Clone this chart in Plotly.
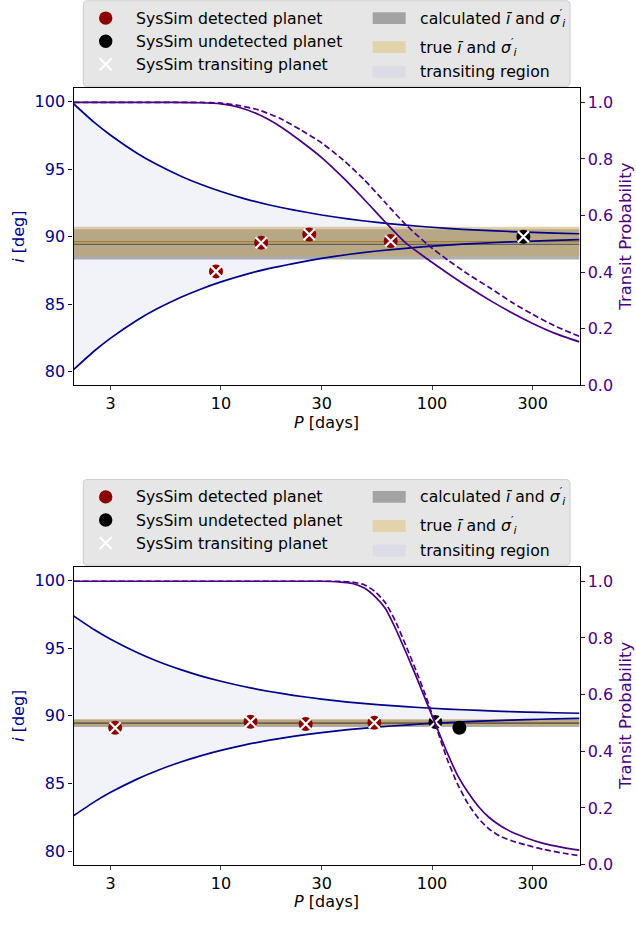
import plotly.graph_objects as go

W, H = 636, 926

# ---------------- data ----------------
P_REGION = [2, 2.5, 3, 4, 5, 6.5, 8, 10, 13, 17, 22, 30, 40, 55, 75, 100, 140, 200, 280, 380, 500]
# top panel transiting region
upper_top = [99.86, 98.49, 97.52, 96.19, 95.33, 94.47, 93.89, 93.35, 92.81, 92.35, 91.99,
             91.61, 91.32, 91.06, 90.86, 90.70, 90.55, 90.43, 90.34, 90.27, 90.22]
lower_top = [80.14, 81.51, 82.48, 83.81, 84.67, 85.53, 86.11, 86.65, 87.19, 87.65, 88.01,
             88.39, 88.68, 88.94, 89.14, 89.30, 89.45, 89.57, 89.66, 89.73, 89.78]
# bottom panel transiting region
upper_bot = [97.39, 96.38, 95.66, 94.68, 94.04, 93.40, 92.96, 92.56, 92.15, 91.80, 91.52,
             91.24, 91.02, 90.83, 90.68, 90.56, 90.45, 90.35, 90.28, 90.23, 90.19]
lower_bot = [82.61, 83.62, 84.34, 85.32, 85.96, 86.60, 87.04, 87.44, 87.85, 88.20, 88.48,
             88.76, 88.98, 89.17, 89.32, 89.44, 89.55, 89.65, 89.72, 89.77, 89.81]

# transit probability curves (right axis)
P_PROB_TOP = [2, 4, 6, 8, 10, 12, 15, 19, 24, 30, 38, 48, 60, 75, 95, 120, 150, 190, 240, 300, 380, 500]
prob_top_solid = [1.0, 1.0, 1.0, 0.999, 0.995, 0.984, 0.958, 0.916, 0.862, 0.805, 0.733, 0.655,
                  0.577, 0.503, 0.446, 0.393, 0.345, 0.298, 0.255, 0.218, 0.184, 0.153]
prob_top_dash = [1.0, 1.0, 1.0, 1.0, 0.998, 0.99, 0.974, 0.944, 0.902, 0.857, 0.796, 0.725,
                 0.646, 0.568, 0.498, 0.44, 0.39, 0.342, 0.292, 0.25, 0.21, 0.172]

P_PROB_BOT = [2, 10, 20, 30, 36, 42, 48, 54, 60, 67, 75, 84, 94, 105, 118, 132, 148, 166, 186,
              210, 240, 280, 340, 420, 500]
prob_bot_solid = [1.0, 1.0, 1.0, 1.0, 0.998, 0.992, 0.975, 0.944, 0.905, 0.835, 0.752, 0.665,
                  0.575, 0.487, 0.395, 0.316, 0.255, 0.205, 0.167, 0.138, 0.114, 0.094, 0.074,
                  0.06, 0.051]
prob_bot_dash = [1.0, 1.0, 1.0, 1.0, 1.0, 0.997, 0.987, 0.962, 0.925, 0.86, 0.775, 0.685, 0.59,
                 0.483, 0.372, 0.285, 0.215, 0.163, 0.126, 0.1, 0.083, 0.069, 0.053, 0.04, 0.031]

# mean inclination and spread: (mean, sigma)
calc_top = (89.43, 1.125)
true_top = (89.64, 1.09)
calc_bot = (89.44, 0.27)
true_bot = (89.50, 0.26)

# planets
det_P_top = [9.47, 15.5, 26.2, 63.7]
det_i_top = [87.43, 89.56, 90.17, 89.68]
und_P_top = [271]
und_i_top = [90.0]
tra_P_top = [9.47, 15.5, 26.2, 63.7, 271]
tra_i_top = [87.43, 89.56, 90.17, 89.68, 90.0]

det_P_bot = [3.15, 13.8, 25.2, 53.3]
det_i_bot = [89.12, 89.56, 89.39, 89.49]
und_P_bot = [103.8, 134.8]
und_i_bot = [89.54, 89.12]
tra_P_bot = [3.15, 13.8, 25.2, 53.3, 103.8]
tra_i_bot = [89.12, 89.56, 89.39, 89.49, 89.54]

P_RANGE = [2, 500]
x_ticks = [3, 10, 30, 100, 300]
i_ticks = [80, 85, 90, 95, 100]
prob_ticks = [0.0, 0.2, 0.4, 0.6, 0.8, 1.0]

legend_left = ["SysSim detected planet", "SysSim undetected planet", "SysSim transiting planet"]
legend_right = ["calculated <i>ī</i> and <i>σ</i><sup>′</sup><sub><i>i</i></sub>",
                "true <i>ī</i> and <i>σ</i><sup>′</sup><sub><i>i</i></sub>",
                "transiting region"]

# ---------------- styles ----------------
FONT = "DejaVu Sans"
BLUE = "#00008B"
PURPLE = "#4B0082"
DRED = "#8B0000"
REGION_FILL = "rgba(0,0,139,0.05)"
GRAY_FILL = "rgba(128,128,128,0.62)"
GRAY_LINE = "rgba(90,90,90,0.9)"
TAN_FILL = "rgba(198,164,92,0.5)"
TAN_LINE = "rgba(160,120,40,0.9)"
GRAY_SW = "#A3A3A3"
TAN_SW = "#E2D3AA"
REG_SW = "#DCDCE6"

def px(x):
    return x / W

def py(y):
    return 1 - y / H

X_DOM = [px(73.5), px(579.5)]
panels = [
    dict(xa="x", ya="y", yb="y2", dom=[py(389.3), py(89.3)], up=upper_top, lo=lower_top,
         calc=calc_top, true=true_top, det=(det_P_top, det_i_top), und=(und_P_top, und_i_top),
         tra=(tra_P_top, tra_i_top), Pp=P_PROB_TOP,
         solid=prob_top_solid, dash=prob_top_dash,
         top=89.3, bottom=389.3, leg_off=0),
    dict(xa="x2", ya="y3", yb="y4", dom=[py(874.0), py(573.3)], up=upper_bot, lo=lower_bot,
         calc=calc_bot, true=true_bot, det=(det_P_bot, det_i_bot), und=(und_P_bot, und_i_bot),
         tra=(tra_P_bot, tra_i_bot), Pp=P_PROB_BOT,
         solid=prob_bot_solid, dash=prob_bot_dash,
         top=573.3, bottom=874.0, leg_off=484),
]

fig = go.Figure()

for p in panels:
    xa, ya, yb = p["xa"], p["ya"], p["yb"]
    common = dict(xaxis=xa, yaxis=ya, showlegend=False, hoverinfo="skip")
    # transiting region fill
    fig.add_trace(go.Scatter(x=P_REGION, y=p["up"], mode="lines",
                             line=dict(width=0, shape="spline", smoothing=0.6), **common))
    fig.add_trace(go.Scatter(x=P_REGION, y=p["lo"], mode="lines", fill="tonexty",
                             fillcolor=REGION_FILL,
                             line=dict(width=0, shape="spline", smoothing=0.6), **common))
    # calculated band
    m, s = p["calc"]
    fig.add_trace(go.Scatter(x=P_RANGE, y=[m + s, m + s], mode="lines",
                             line=dict(width=0), **common))
    fig.add_trace(go.Scatter(x=P_RANGE, y=[m - s, m - s], mode="lines", fill="tonexty",
                             fillcolor=GRAY_FILL, line=dict(width=0), **common))
    # true band
    m2, s2 = p["true"]
    fig.add_trace(go.Scatter(x=P_RANGE, y=[m2 + s2, m2 + s2], mode="lines",
                             line=dict(width=0), **common))
    fig.add_trace(go.Scatter(x=P_RANGE, y=[m2 - s2, m2 - s2], mode="lines", fill="tonexty",
                             fillcolor=TAN_FILL, line=dict(width=0), **common))
    # mean lines
    fig.add_trace(go.Scatter(x=P_RANGE, y=[m2, m2], mode="lines",
                             line=dict(width=1.4, color=TAN_LINE), **common))
    fig.add_trace(go.Scatter(x=P_RANGE, y=[m, m], mode="lines",
                             line=dict(width=1.4, color=GRAY_LINE), **common))
    # region boundaries
    for arr in (p["up"], p["lo"]):
        fig.add_trace(go.Scatter(x=P_REGION, y=arr, mode="lines",
                                 line=dict(width=1.7, color=BLUE, shape="spline", smoothing=0.6),
                                 **common))
    # planets
    fig.add_trace(go.Scatter(x=p["det"][0], y=p["det"][1], mode="markers",
                             marker=dict(size=14, color=DRED, line=dict(width=0)), **common))
    fig.add_trace(go.Scatter(x=p["und"][0], y=p["und"][1], mode="markers",
                             marker=dict(size=14, color="black", line=dict(width=0)), **common))
    fig.add_trace(go.Scatter(x=p["tra"][0], y=p["tra"][1], mode="markers",
                             marker=dict(size=11, symbol="x-thin", color="white",
                                         line=dict(width=2.2, color="white")), **common))
    # transit probability
    common2 = dict(xaxis=xa, yaxis=yb, showlegend=False, hoverinfo="skip")
    fig.add_trace(go.Scatter(x=p["Pp"], y=p["dash"], mode="lines",
                             line=dict(width=1.7, color=PURPLE, dash="6px,3px",
                                       shape="spline", smoothing=0.6), **common2))
    fig.add_trace(go.Scatter(x=p["Pp"], y=p["solid"], mode="lines",
                             line=dict(width=1.7, color=PURPLE, shape="spline", smoothing=0.6),
                             **common2))

# ---------------- axes ----------------
def xaxis_cfg(anchor):
    return dict(type="log", range=[0.30103, 2.69897], domain=X_DOM, anchor=anchor,
                tickvals=x_ticks, ticktext=[str(t) for t in x_ticks],
                ticks="outside", ticklen=4, tickwidth=1, tickcolor="#444",
                tickfont=dict(size=16, color="black", family=FONT),
                showline=True, linecolor="black", linewidth=1.3, mirror=True,
                showgrid=False, zeroline=False)

def yleft_cfg(dom, anchor):
    return dict(range=[79, 101], domain=dom, anchor=anchor, tickvals=i_ticks,
                ticktext=[str(t) for t in i_ticks],
                ticks="outside", ticklen=4, tickwidth=1, tickcolor=BLUE,
                tickfont=dict(size=16, color=BLUE, family=FONT),
                showline=True, linecolor="black", linewidth=1.3, mirror=True,
                showgrid=False, zeroline=False)

def yright_cfg(over, anchor):
    return dict(range=[0, 1.05], overlaying=over, side="right", anchor=anchor,
                tickvals=prob_ticks, ticktext=["%.1f" % t for t in prob_ticks],
                ticks="outside", ticklen=4, tickwidth=1, tickcolor=PURPLE,
                tickfont=dict(size=16, color=PURPLE, family=FONT),
                showline=False, showgrid=False, zeroline=False)

fig.update_layout(
    width=W, height=H, autosize=False,
    margin=dict(l=0, r=0, t=0, b=0),
    paper_bgcolor="white", plot_bgcolor="rgba(0,0,0,0)",
    font=dict(family=FONT, size=16, color="black"),
    showlegend=False,
    xaxis=xaxis_cfg("y"),
    xaxis2=xaxis_cfg("y3"),
    yaxis=yleft_cfg(panels[0]["dom"], "x"),
    yaxis2=yright_cfg("y", "x"),
    yaxis3=yleft_cfg(panels[1]["dom"], "x2"),
    yaxis4=yright_cfg("y3", "x2"),
)

shapes = []
annotations = []

def rounded_rect(x0, y0, x1, y1, r):
    def P(x, y):
        return "%.5f,%.5f" % (px(x), py(y))
    return ("M " + P(x0 + r, y0) + " L " + P(x1 - r, y0) + " Q " + P(x1, y0) + " " + P(x1, y0 + r) +
            " L " + P(x1, y1 - r) + " Q " + P(x1, y1) + " " + P(x1 - r, y1) +
            " L " + P(x0 + r, y1) + " Q " + P(x0, y1) + " " + P(x0, y1 - r) +
            " L " + P(x0, y0 + r) + " Q " + P(x0, y0) + " " + P(x0 + r, y0) + " Z")

for p in panels:
    o = p["leg_off"]
    mid = (p["top"] + p["bottom"]) / 2
    # axis titles
    annotations.append(dict(x=px(326.5), y=py(p["bottom"] + 37.5), xref="paper", yref="paper",
                            text="<i>P</i> [days]", showarrow=False,
                            font=dict(size=16, color="black", family=FONT),
                            xanchor="center", yanchor="middle"))
    annotations.append(dict(x=px(19), y=py(mid), xref="paper", yref="paper",
                            text="<i>i</i> [deg]", showarrow=False, textangle=-90,
                            font=dict(size=16, color=BLUE, family=FONT),
                            xanchor="center", yanchor="middle"))
    annotations.append(dict(x=px(626), y=py(mid), xref="paper", yref="paper",
                            text="Transit Probability", showarrow=False, textangle=-90,
                            font=dict(size=16.5, color=PURPLE, family=FONT),
                            xanchor="center", yanchor="middle"))
    # legend background
    shapes.append(dict(type="path", xref="paper", yref="paper",
                       path=rounded_rect(83.3, 0.8 + o, 570, 87.3 + o, 4),
                       fillcolor="#E6E6E6", line=dict(color="#CCCCCC", width=1), layer="above"))
    # left column markers
    rows_l = [18.3 + o, 41.7 + o, 65.0 + o]
    for yy, col in zip(rows_l[:2], [DRED, "black"]):
        shapes.append(dict(type="circle", xref="paper", yref="paper",
                           xsizemode="pixel", ysizemode="pixel",
                           xanchor=px(105.7), yanchor=py(yy), x0=-6.7, x1=6.7, y0=-6.7, y1=6.7,
                           fillcolor=col, line=dict(width=0), layer="above"))
    for (a, b) in [((-6, -6), (6, 6)), ((-6, 6), (6, -6))]:
        shapes.append(dict(type="line", xref="paper", yref="paper",
                           xsizemode="pixel", ysizemode="pixel",
                           xanchor=px(105.7), yanchor=py(rows_l[2]),
                           x0=a[0], y0=a[1], x1=b[0], y1=b[1],
                           line=dict(color="white", width=2), layer="above"))
    for yy, txt in zip(rows_l, legend_left):
        annotations.append(dict(x=px(134.3), y=py(yy), xref="paper", yref="paper", text=txt,
                                showarrow=False, xanchor="left", yanchor="middle",
                                font=dict(size=15.7, color="black", family=FONT)))
    rows_r = [18.3 + o, 47.7 + o, 72.7 + o]
    for yy, col in zip(rows_r, [GRAY_SW, TAN_SW, REG_SW]):
        shapes.append(dict(type="rect", xref="paper", yref="paper",
                           x0=px(372.7), x1=px(405.7), y0=py(yy - 6), y1=py(yy + 6),
                           fillcolor=col, line=dict(width=0), layer="above"))
    for yy, txt in zip(rows_r, legend_right):
        annotations.append(dict(x=px(417.7), y=py(yy), xref="paper", yref="paper", text=txt,
                                showarrow=False, xanchor="left", yanchor="middle",
                                font=dict(size=15.7, color="black", family=FONT)))

fig.update_layout(shapes=shapes, annotations=annotations)
fig.write_html("out.html")
